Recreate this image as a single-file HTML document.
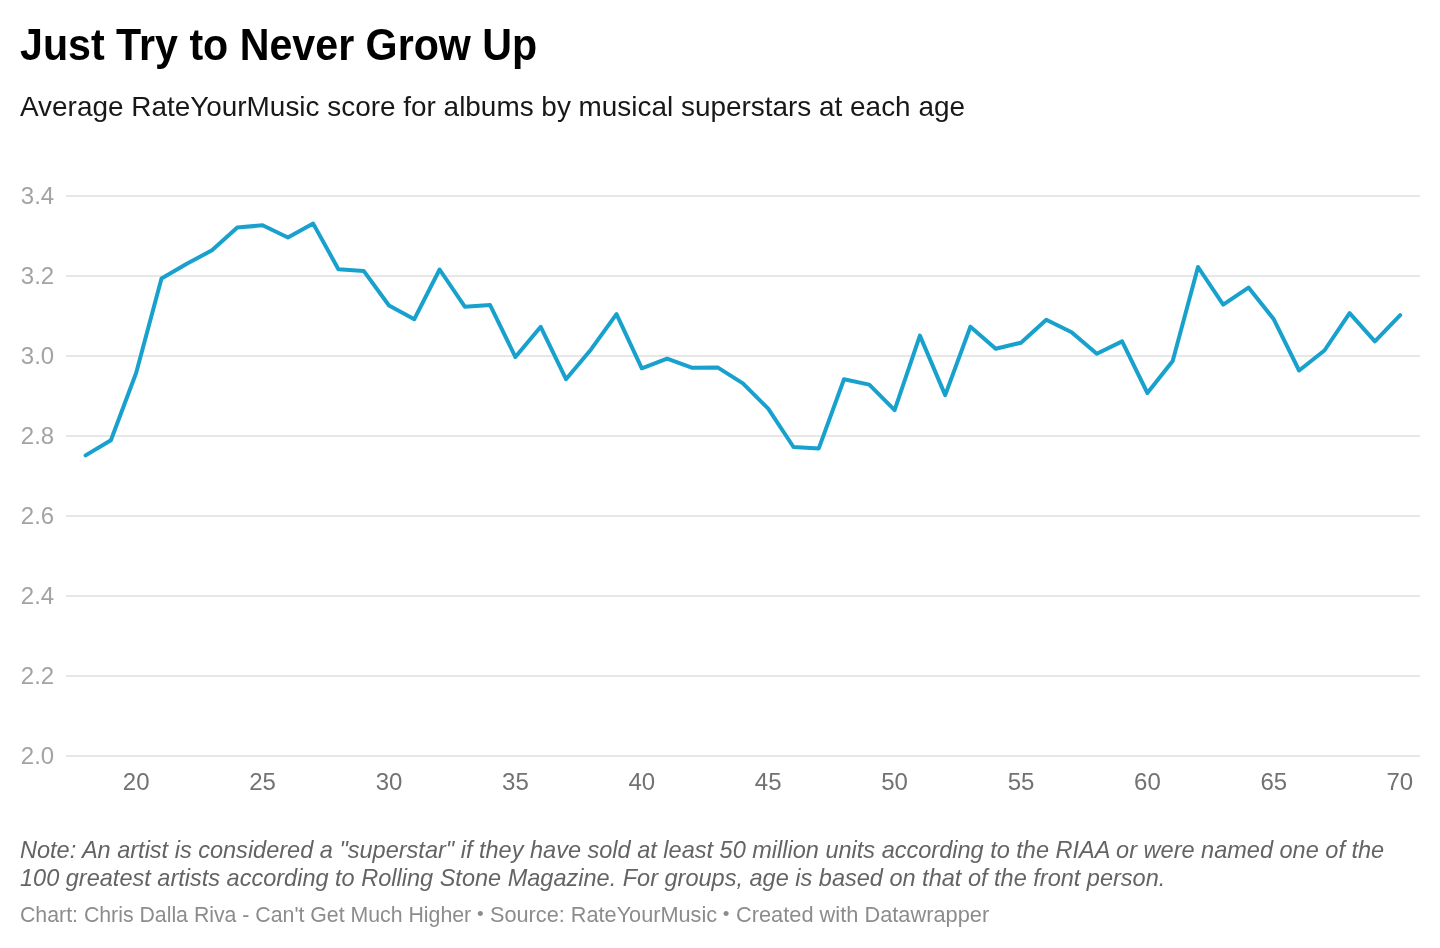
<!DOCTYPE html>
<html lang="en">
<head>
<meta charset="utf-8">
<title>Just Try to Never Grow Up</title>
<style>
html,body{margin:0;padding:0;background:#fff;}
body{width:1440px;height:948px;position:relative;overflow:hidden;font-family:"Liberation Sans",sans-serif;}
.abs{position:absolute;white-space:nowrap;margin:0;transform-origin:0 0;}
#title{left:20px;top:19px;font-size:44px;line-height:52px;font-weight:bold;color:#000;transform:scaleX(0.936);}
#desc{left:20px;top:90.5px;font-size:28px;line-height:32px;color:#181818;transform:scaleX(0.997);}
#note1,#note2{left:20px;font-size:24px;line-height:28px;font-style:italic;color:#646464;transform:scaleX(0.98);}
#note1{top:836px;}
#note2{top:864px;}
#foot{left:0;top:901px;width:1440px;height:28px;font-size:22px;line-height:28px;color:#8c8c8c;}
#foot span{position:absolute;top:0;white-space:nowrap;transform-origin:0 0;}
#foot .b{font-size:19px;top:-0.7px;}
svg{position:absolute;left:0;top:0;}
svg text{font-family:"Liberation Sans",sans-serif;font-size:24px;}
.grid line{stroke:#e7e7e7;stroke-width:2;shape-rendering:crispEdges;}
.yl text{fill:#a3a3a3;}
.xl text{fill:#727272;}
</style>
</head>
<body>
<h1 class="abs" id="title">Just Try to Never Grow Up</h1>
<p class="abs" id="desc">Average RateYourMusic score for albums by musical superstars at each age</p>
<svg width="1440" height="948" viewBox="0 0 1440 948">
<g class="grid">
<line x1="66" x2="1420" y1="196" y2="196"/>
<line x1="66" x2="1420" y1="276" y2="276"/>
<line x1="66" x2="1420" y1="356" y2="356"/>
<line x1="66" x2="1420" y1="436" y2="436"/>
<line x1="66" x2="1420" y1="516" y2="516"/>
<line x1="66" x2="1420" y1="596" y2="596"/>
<line x1="66" x2="1420" y1="676" y2="676"/>
<line x1="66" x2="1420" y1="756" y2="756"/>
</g>
<g class="yl">
<text x="20.8" y="203.75">3.4</text>
<text x="20.8" y="283.75">3.2</text>
<text x="20.8" y="363.75">3.0</text>
<text x="20.8" y="443.75">2.8</text>
<text x="20.8" y="523.75">2.6</text>
<text x="20.8" y="603.75">2.4</text>
<text x="20.8" y="683.75">2.2</text>
<text x="20.8" y="763.75">2.0</text>
</g>
<g class="xl">
<text x="136.2" y="790" text-anchor="middle">20</text>
<text x="262.6" y="790" text-anchor="middle">25</text>
<text x="389.0" y="790" text-anchor="middle">30</text>
<text x="515.4" y="790" text-anchor="middle">35</text>
<text x="641.8" y="790" text-anchor="middle">40</text>
<text x="768.2" y="790" text-anchor="middle">45</text>
<text x="894.6" y="790" text-anchor="middle">50</text>
<text x="1021.0" y="790" text-anchor="middle">55</text>
<text x="1147.4" y="790" text-anchor="middle">60</text>
<text x="1273.8" y="790" text-anchor="middle">65</text>
<text x="1413.2" y="790" text-anchor="end">70</text>
</g>
<path d="M85.6,455.4 L110.9,440.2 L136.2,372.7 L161.5,278.5 L186.8,263.8 L212.0,250.3 L237.3,227.5 L262.6,225.3 L287.9,237.5 L313.2,223.6 L338.4,269.2 L363.7,270.9 L389.0,305.5 L414.3,319.2 L439.6,269.5 L464.8,306.7 L490.1,305.0 L515.4,357.0 L540.7,326.8 L566.0,379.2 L591.2,349.2 L616.5,314.1 L641.8,368.3 L667.1,358.6 L692.4,367.8 L717.6,367.4 L742.9,383.4 L768.2,408.7 L793.5,447.0 L818.8,448.4 L844.0,379.2 L869.3,384.6 L894.6,410.1 L919.9,335.6 L945.2,395.1 L970.4,326.7 L995.7,348.8 L1021.0,342.7 L1046.3,319.7 L1071.6,332.2 L1096.8,353.8 L1122.1,341.4 L1147.4,393.0 L1172.7,360.9 L1198.0,267.0 L1223.2,304.6 L1248.5,287.6 L1273.8,319.3 L1299.1,370.5 L1324.4,350.5 L1349.6,313.2 L1374.9,341.3 L1400.2,315.1" fill="none" stroke="#18a1cd" stroke-width="4" stroke-linejoin="round" stroke-linecap="round"/>
</svg>
<p class="abs" id="note1">Note: An artist is considered a "superstar" if they have sold at least 50 million units according to the RIAA or were named one of the</p>
<p class="abs" id="note2">100 greatest artists according to Rolling Stone Magazine. For groups, age is based on that of the front person.</p>
<p class="abs" id="foot"><span style="left:20.03px;transform:scaleX(0.9675)">Chart: Chris Dalla Riva - Can't Get Much Higher</span> <span class="b" style="left:477.0px">•</span> <span style="left:489.56px;transform:scaleX(0.9862)">Source: RateYourMusic</span> <span class="b" style="left:722.8px">•</span> <span style="left:735.71px;transform:scaleX(0.9906)">Created with Datawrapper</span></p>
</body>
</html>
